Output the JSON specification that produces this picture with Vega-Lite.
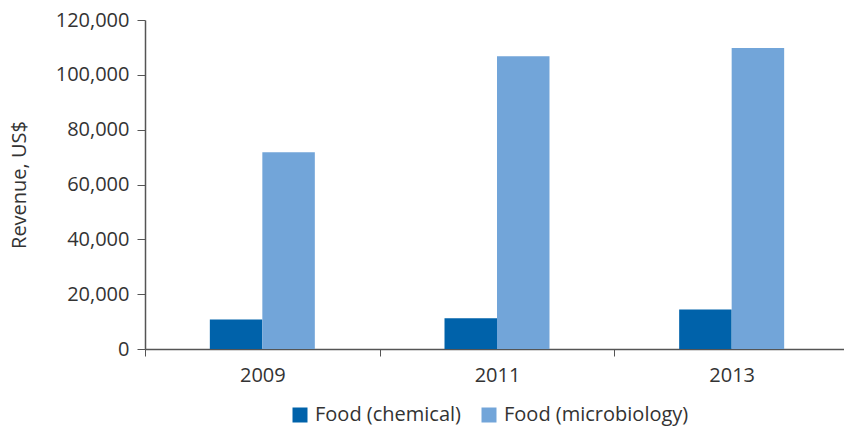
{
  "$schema": "https://vega.github.io/schema/vega-lite/v6.json",
  "width": 704,
  "height": 329,
  "autosize": {"type": "none"},
  "padding": {"left": 145, "top": 20, "right": 0, "bottom": 77},
  "background": "white",
  "config": {
    "view": {"stroke": null},
    "font": "Open Sans",
    "axis": {
      "domainColor": "#555555",
      "tickColor": "#555555",
      "labelColor": "#333333",
      "titleColor": "#333333",
      "labelFont": "Open Sans",
      "titleFont": "Open Sans",
      "labelFontSize": 20,
      "titleFontSize": 20,
      "titleFontWeight": "normal",
      "grid": false
    },
    "legend": {
      "labelFont": "Open Sans",
      "labelFontSize": 20,
      "labelColor": "#333333",
      "labelLimit": 400
    }
  },
  "data": {
    "values": [
      {"year": "2009", "category": "Food (chemical)", "revenue": 10800},
      {"year": "2009", "category": "Food (microbiology)", "revenue": 71800},
      {"year": "2011", "category": "Food (chemical)", "revenue": 11200},
      {"year": "2011", "category": "Food (microbiology)", "revenue": 106800},
      {"year": "2013", "category": "Food (chemical)", "revenue": 14400},
      {"year": "2013", "category": "Food (microbiology)", "revenue": 109800}
    ]
  },
  "mark": {"type": "bar"},
  "encoding": {
    "x": {
      "field": "year",
      "type": "nominal",
      "scale": {"paddingInner": 0.5526, "paddingOuter": 0.2763},
      "axis": {
        "title": null,
        "labelAngle": 0,
        "tickOffset": -117.3,
        "labelOffset": 117.3,
        "tickSize": 7,
        "labelPadding": 9,
        "domainWidth": 1.5
      }
    },
    "xOffset": {
      "field": "category",
      "scale": {"paddingInner": 0, "paddingOuter": 0}
    },
    "y": {
      "field": "revenue",
      "type": "quantitative",
      "scale": {"domain": [0, 120000], "nice": false},
      "axis": {
        "title": "Revenue, US$",
        "values": [0, 20000, 40000, 60000, 80000, 100000, 120000],
        "format": ",.0f",
        "tickSize": 8,
        "labelPadding": 8,
        "titlePadding": 26,
        "domainWidth": 1.5
      }
    },
    "color": {
      "field": "category",
      "type": "nominal",
      "scale": {
        "domain": ["Food (chemical)", "Food (microbiology)"],
        "range": ["#0062AA", "#72A5D9"]
      },
      "legend": {
        "title": null,
        "orient": "none",
        "direction": "horizontal",
        "legendX": 145,
        "legendY": 385,
        "symbolType": "square",
        "symbolSize": 225,
        "symbolStrokeWidth": 0,
        "symbolOpacity": 1,
        "labelOffset": 5,
        "columnPadding": 18
      }
    }
  }
}
